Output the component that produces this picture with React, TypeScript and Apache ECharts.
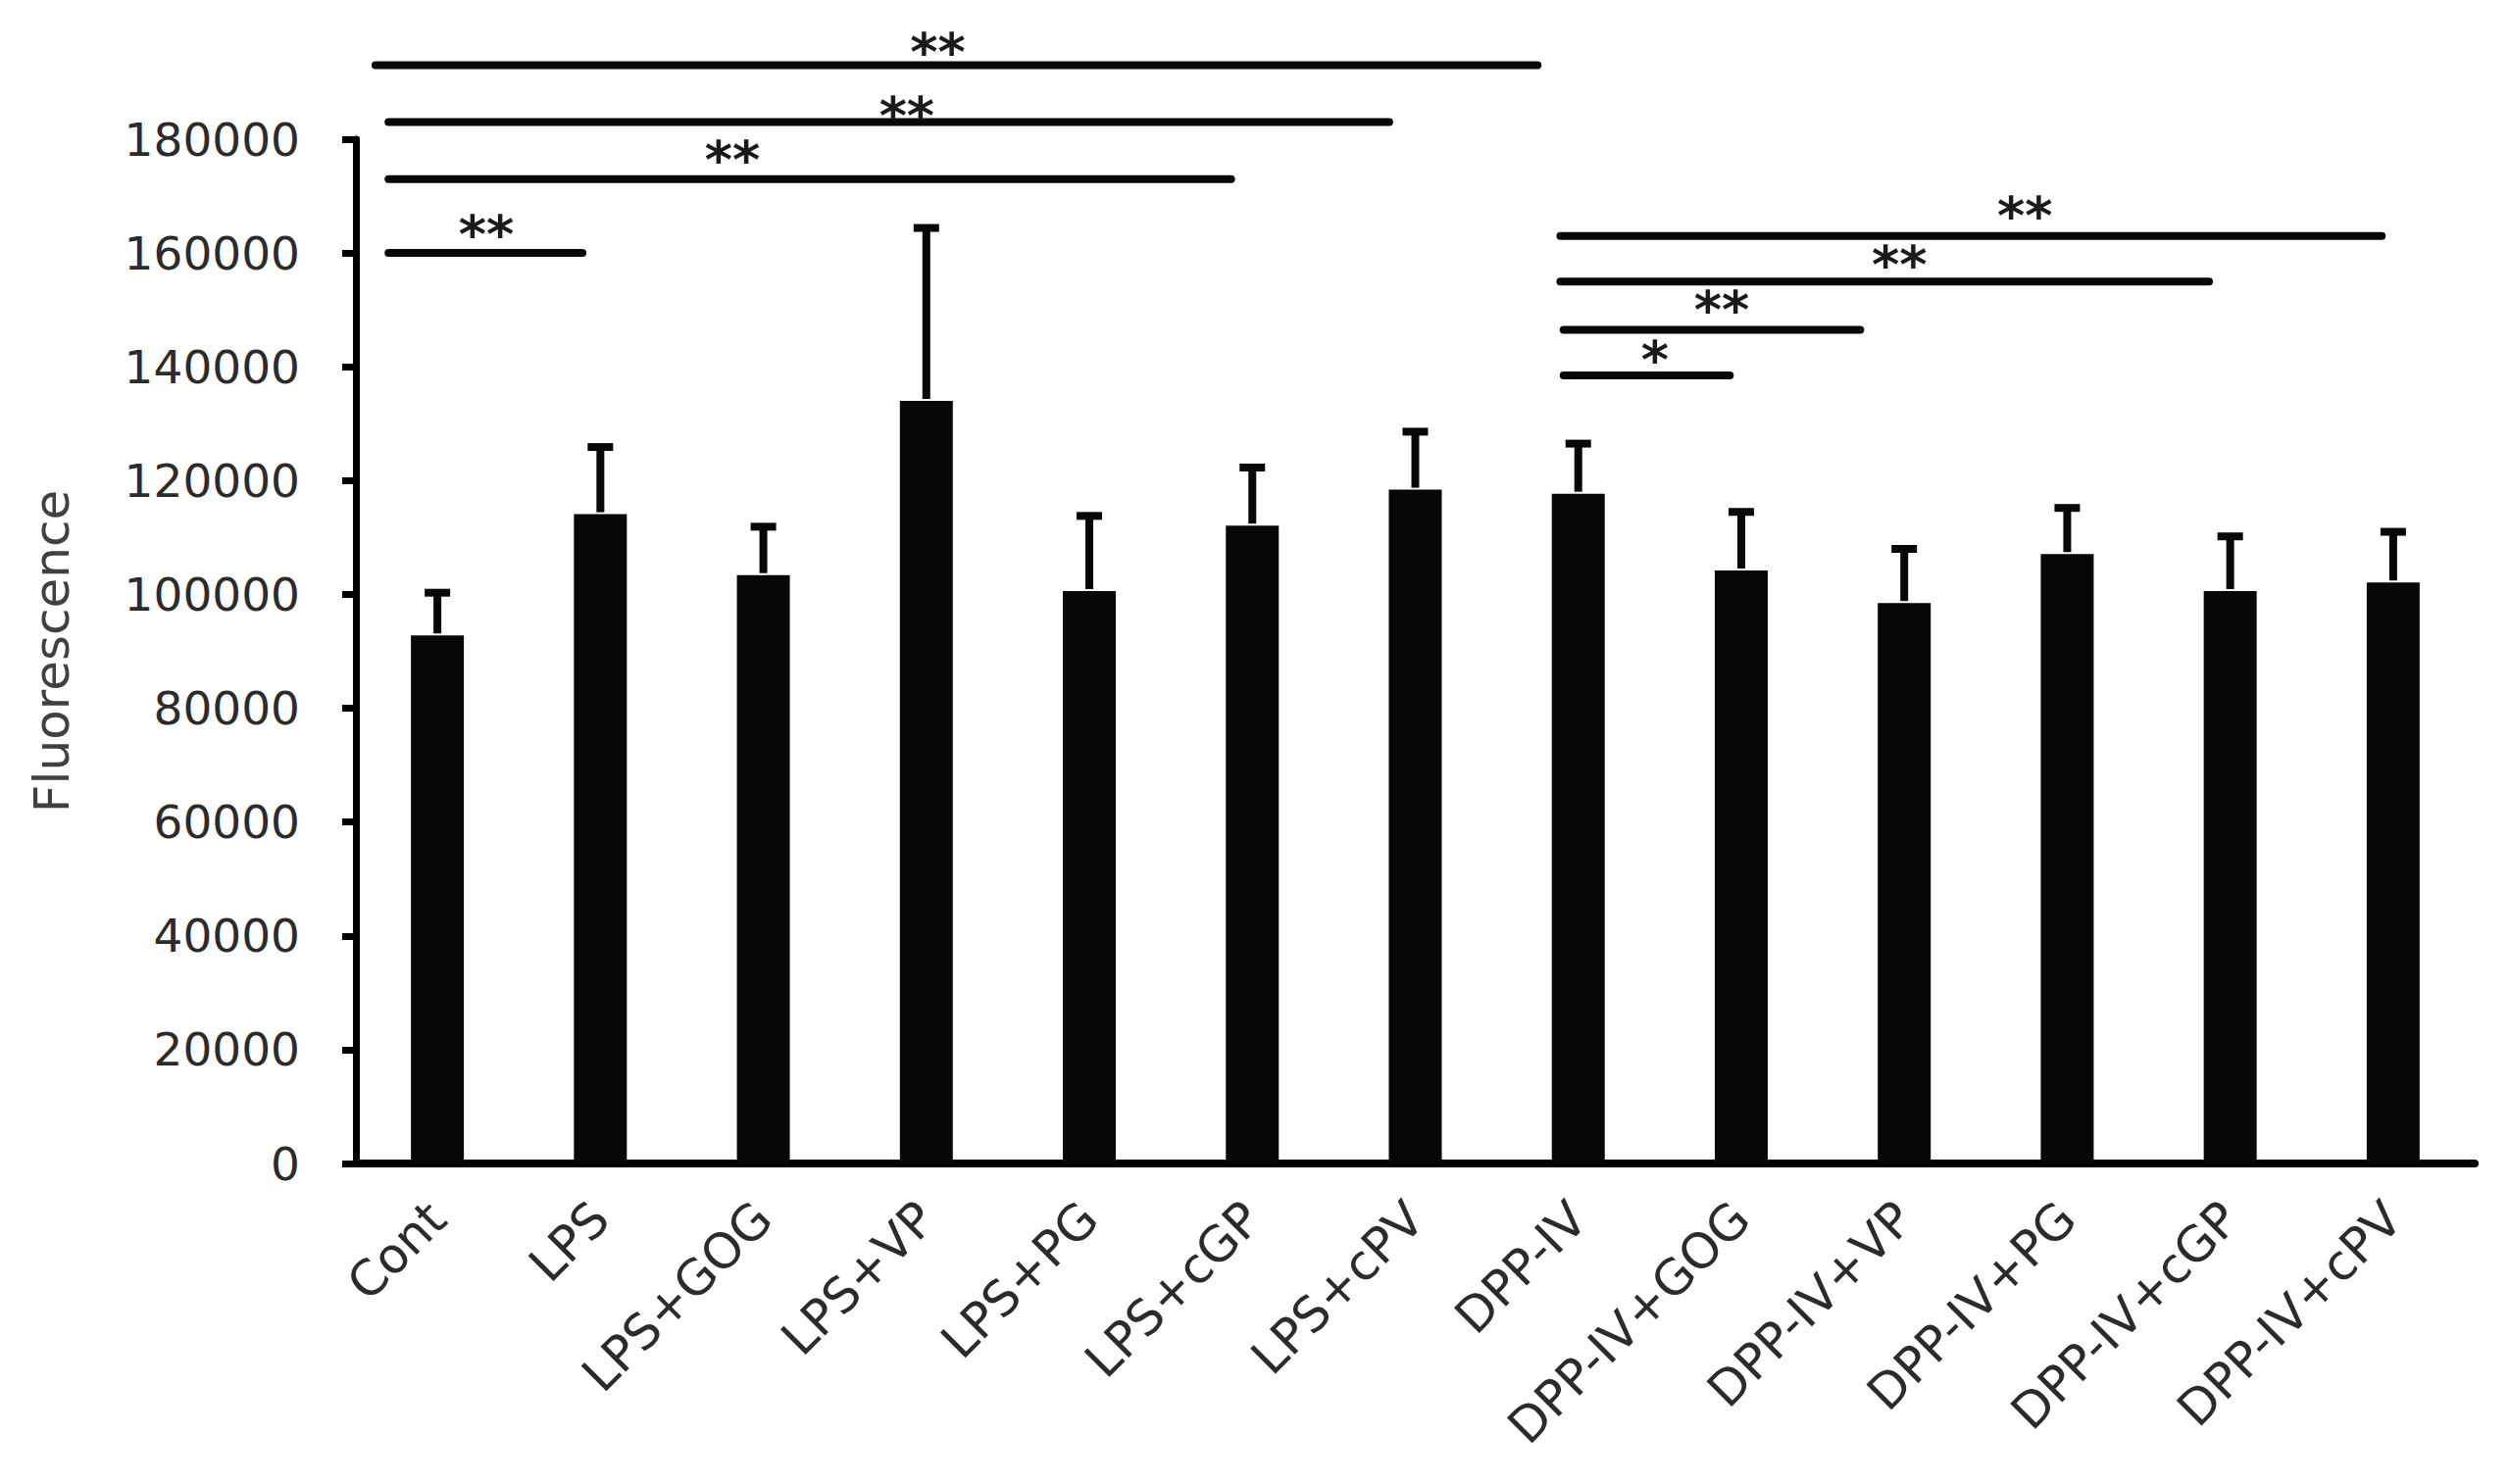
import React, { useEffect, useRef } from "react";
import * as echarts from "echarts";

const categories = [
  "Cont", "LPS", "LPS+GOG", "LPS+VP", "LPS+PG", "LPS+cGP", "LPS+cPV",
  "DPP-IV", "DPP-IV+GOG", "DPP-IV+VP", "DPP-IV+PG", "DPP-IV+cGP", "DPP-IV+cPV",
];
const means = [92800, 114100, 103400, 134000, 100600, 112100, 118400, 117700, 104200, 98500, 107100, 100600, 102100];
const errors = [7500, 11800, 8500, 30400, 13200, 10200, 10200, 8800, 10300, 9500, 8100, 9600, 8900];

// significance brackets: start / end in category units, height in data units
const sigStart = [-0.38, -0.3, -0.3, -0.3, 6.89, 6.89, 6.91, 6.91];
const sigEnd = [6.75, 5.84, 4.87, 0.89, 11.93, 10.87, 8.73, 7.93];
const sigLevel = [193000, 183000, 173000, 160000, 163000, 155000, 146500, 138500];
const sigLabelX = [3.07, 2.88, 1.81, 0.3, 9.74, 8.97, 7.88, 7.47];
const sigLabelY = [196700, 185400, 177600, 164500, 167800, 159200, 151400, 142600];
const sigLabels = ["**", "**", "**", "**", "**", "**", "**", "*"];

const yTicks = { min: 0, max: 180000, interval: 20000 };

const FONT = "DejaVu Sans";

export default function App() {
  const ref = useRef<HTMLDivElement>(null);
  useEffect(() => {
    if (!ref.current) return;
    const chart = echarts.init(ref.current, undefined, { renderer: "svg" });
    const errData = categories.map((_, i) => [i, means[i], means[i] + errors[i]]);
    const sigData = sigStart.map((s, i) => [s, sigEnd[i], sigLevel[i], sigLabelX[i], sigLabelY[i]]);
    chart.setOption({
      animation: false,
      backgroundColor: "#ffffff",
      grid: { left: 363, right: 35, top: 142, bottom: 327, containLabel: false },
      xAxis: [
        {
          type: "category",
          data: categories,
          axisLine: { show: true, onZero: false, lineStyle: { color: "#000", width: 8 } },
          axisTick: { show: false },
          axisLabel: {
            interval: 0,
            rotate: 45,
            margin: 48,
            fontSize: 50,
            fontFamily: FONT,
            color: "#2b2b2b",
          },
          splitLine: { show: false },
        },
        {
          type: "value",
          min: -0.5,
          max: 12.5,
          show: false,
          splitLine: { show: false },
        },
      ],
      yAxis: {
        type: "value",
        min: yTicks.min,
        max: yTicks.max,
        interval: yTicks.interval,
        name: "Fluorescence",
        nameLocation: "middle",
        nameGap: 285,
        nameTextStyle: { fontSize: 50, fontFamily: FONT, color: "#404040" },
        axisLine: { show: true, onZero: false, lineStyle: { color: "#000", width: 7 } },
        axisTick: { show: true, length: 14, lineStyle: { color: "#000", width: 7 } },
        axisLabel: {
          fontSize: 47,
          fontFamily: FONT,
          color: "#2b2b2b",
          margin: 57,
          formatter: (v: number) => String(v),
        },
        splitLine: { show: false },
      },
      series: [
        {
          type: "bar",
          data: means,
          barWidth: 54,
          itemStyle: { color: "#060808" },
          xAxisIndex: 0,
        },
        {
          type: "custom",
          xAxisIndex: 0,
          clip: false,
          data: errData,
          renderItem: (params: any, api: any) => {
            const i = api.value(0);
            const base = api.coord([i, api.value(1)]);
            const top = api.coord([i, api.value(2)]);
            return {
              type: "group",
              children: [
                {
                  type: "line",
                  shape: { x1: base[0], y1: base[1] - 2, x2: top[0], y2: top[1] },
                  style: { stroke: "#060808", lineWidth: 8 },
                },
                {
                  type: "line",
                  shape: { x1: top[0] - 13, y1: top[1], x2: top[0] + 13, y2: top[1] },
                  style: { stroke: "#060808", lineWidth: 8 },
                },
              ],
            };
          },
        },
        {
          type: "custom",
          xAxisIndex: 1,
          clip: false,
          data: sigData,
          renderItem: (params: any, api: any) => {
            const p1 = api.coord([api.value(0), api.value(2)]);
            const p2 = api.coord([api.value(1), api.value(2)]);
            const lp = api.coord([api.value(3), api.value(4)]);
            return {
              type: "group",
              children: [
                {
                  type: "line",
                  shape: { x1: p1[0], y1: p1[1], x2: p2[0], y2: p2[1] },
                  style: { stroke: "#060808", lineWidth: 8, lineCap: "round" },
                },
                {
                  type: "text",
                  x: lp[0],
                  y: lp[1] + 8,
                  style: {
                    text: sigLabels[params.dataIndex],
                    fontSize: 54,
                    fontWeight: "bold",
                    fontFamily: FONT,
                    fill: "#1a1a1a",
                    align: "center",
                    verticalAlign: "middle",
                  },
                },
              ],
            };
          },
        },
      ],
    });
    return () => chart.dispose();
  }, []);
  return (
    <div
      ref={ref}
      style={{ position: "absolute", left: 0, top: 0, width: 2559, height: 1514, background: "#fff" }}
    />
  );
}
